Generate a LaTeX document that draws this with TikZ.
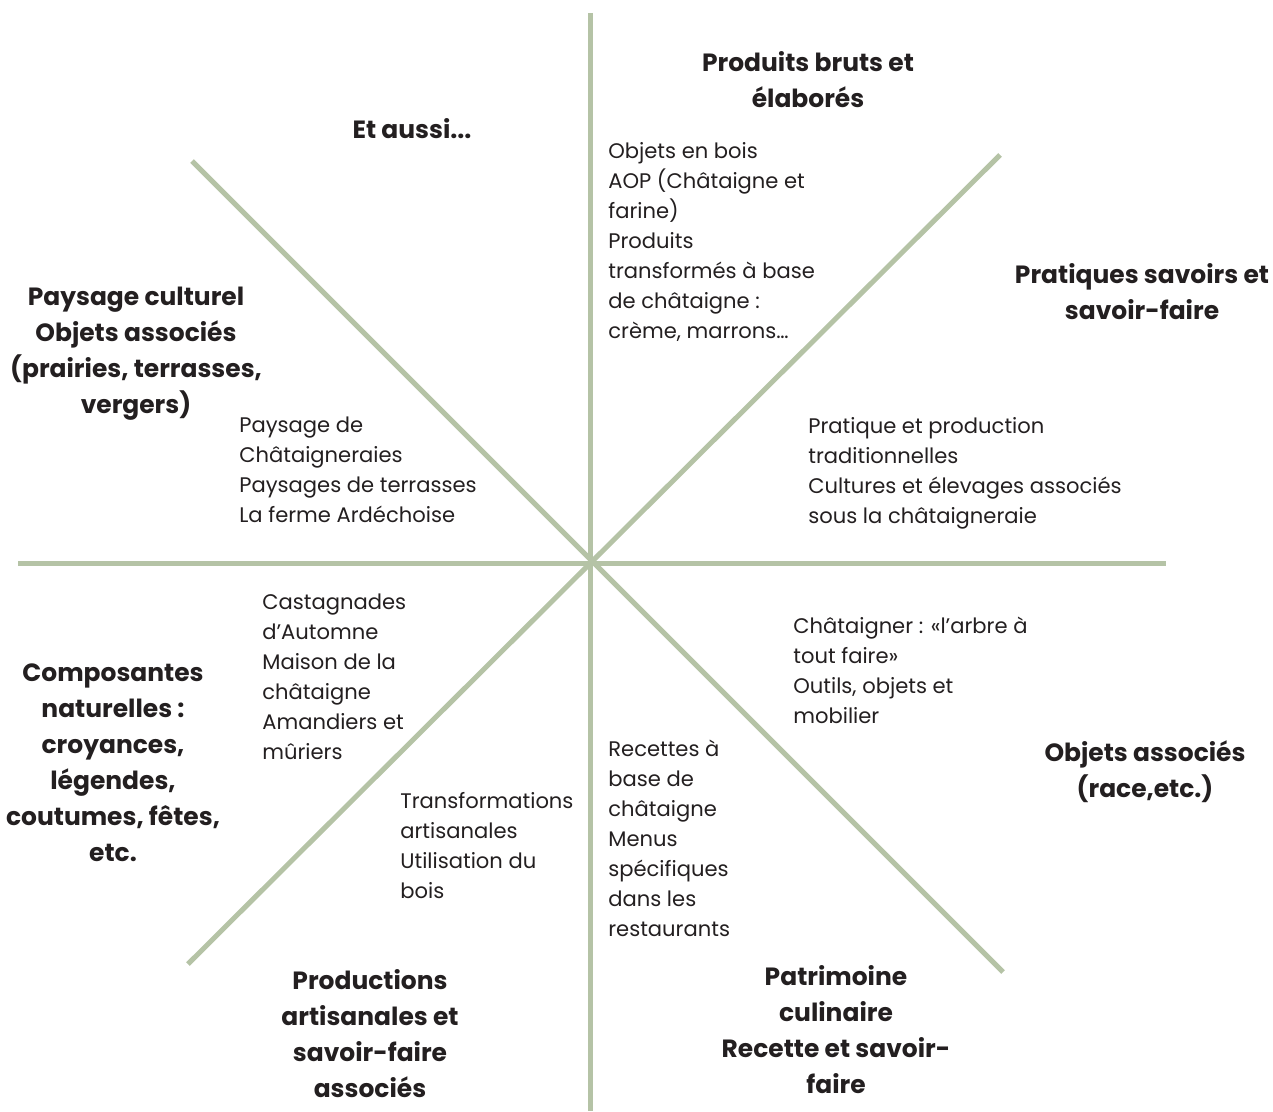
\documentclass[tikz,border=0pt]{standalone}
\usepackage{fontspec}
\setmainfont{Poppins}
\definecolor{sauge}{RGB}{181,195,166}
\definecolor{encre}{RGB}{35,31,32}

\begin{document}
\begin{tikzpicture}[x=0.02cm,y=-0.02cm,
    axe/.style={draw=sauge,line width=2.85pt},
    titre/.style={anchor=north,align=center,inner sep=0pt,text=encre,
      font=\bfseries\fontsize{14.2}{20.5}\selectfont},
    texte/.style={anchor=north west,align=left,inner sep=0pt,text=encre,
      font=\fontsize{12}{17.07}\selectfont}]
            \useasboundingbox (0,0) rectangle (1273,1111);
            % axes
            \coordinate (c) at (590,563);
            \coordinate (n) at (590,13);
            \coordinate (s) at (590,1111);
            \coordinate (o) at (18,563);
            \coordinate (e) at (1166,563);
            \coordinate (no) at (192,161);
            \coordinate (ne) at (1000,155);
            \coordinate (so) at (188,964);
            \coordinate (se) at (1003,972);
            \draw[axe] (n) -- (s);
            \draw[axe] (o) -- (e);
            \draw[axe] (no) -- (se);
            \draw[axe] (so) -- (ne);
            % titres
            \node[titre] (produits) at (808,51) {Produits bruts et\\élaborés};
            \node[titre] (aussi) at (412,118) {Et aussi...};
            \node[titre] (pratiques) at (1142,263) {Pratiques savoirs et\\savoir-faire};
            \node[titre] (paysage) at (136,287) {Paysage culturel\\Objets associés\\(prairies, terrasses,\\vergers)};
            \node[titre] (composantes) at (113,663) {Composantes\\naturelles :\\croyances,\\légendes,\\coutumes, fêtes,\\etc.};
            \node[titre] (objets) at (1145,740) {Objets associés\\(race,etc.)};
            \node[titre] (productions) at (370,969) {Productions\\artisanales et\\savoir-faire\\associés};
            \node[titre] (patrimoine) at (836,965) {Patrimoine\\culinaire\\Recette et savoir-\\faire};
            % textes
            \node[texte] (bois) at (608,142) {Objets en bois\\AOP (Châtaigne et\\farine)\\Produits\\transformés à base\\de châtaigne :\\crème, marrons…};
            \node[texte] (terrasses) at (239,417) {Paysage de\\Châtaigneraies\\Paysages de terrasses\\La ferme Ardéchoise};
            \node[texte] (tradition) at (808,417) {Pratique et production\\traditionnelles\\Cultures et élevages associés\\sous la châtaigneraie};
            \node[texte] (castagnades) at (262,594) {Castagnades\\d’Automne\\Maison de la\\châtaigne\\Amandiers et\\mûriers};
            \node[texte] (arbre) at (793,617) {Châtaigner : «l’arbre à\\tout faire»\\Outils, objets et\\mobilier};
            \node[texte] (recettes) at (608,740) {Recettes à\\base de\\châtaigne\\Menus\\spécifiques\\dans les\\restaurants};
            \node[texte] (artisanales) at (400,792) {Transformations\\artisanales\\Utilisation du\\bois};
        \end{tikzpicture}
\end{document}
